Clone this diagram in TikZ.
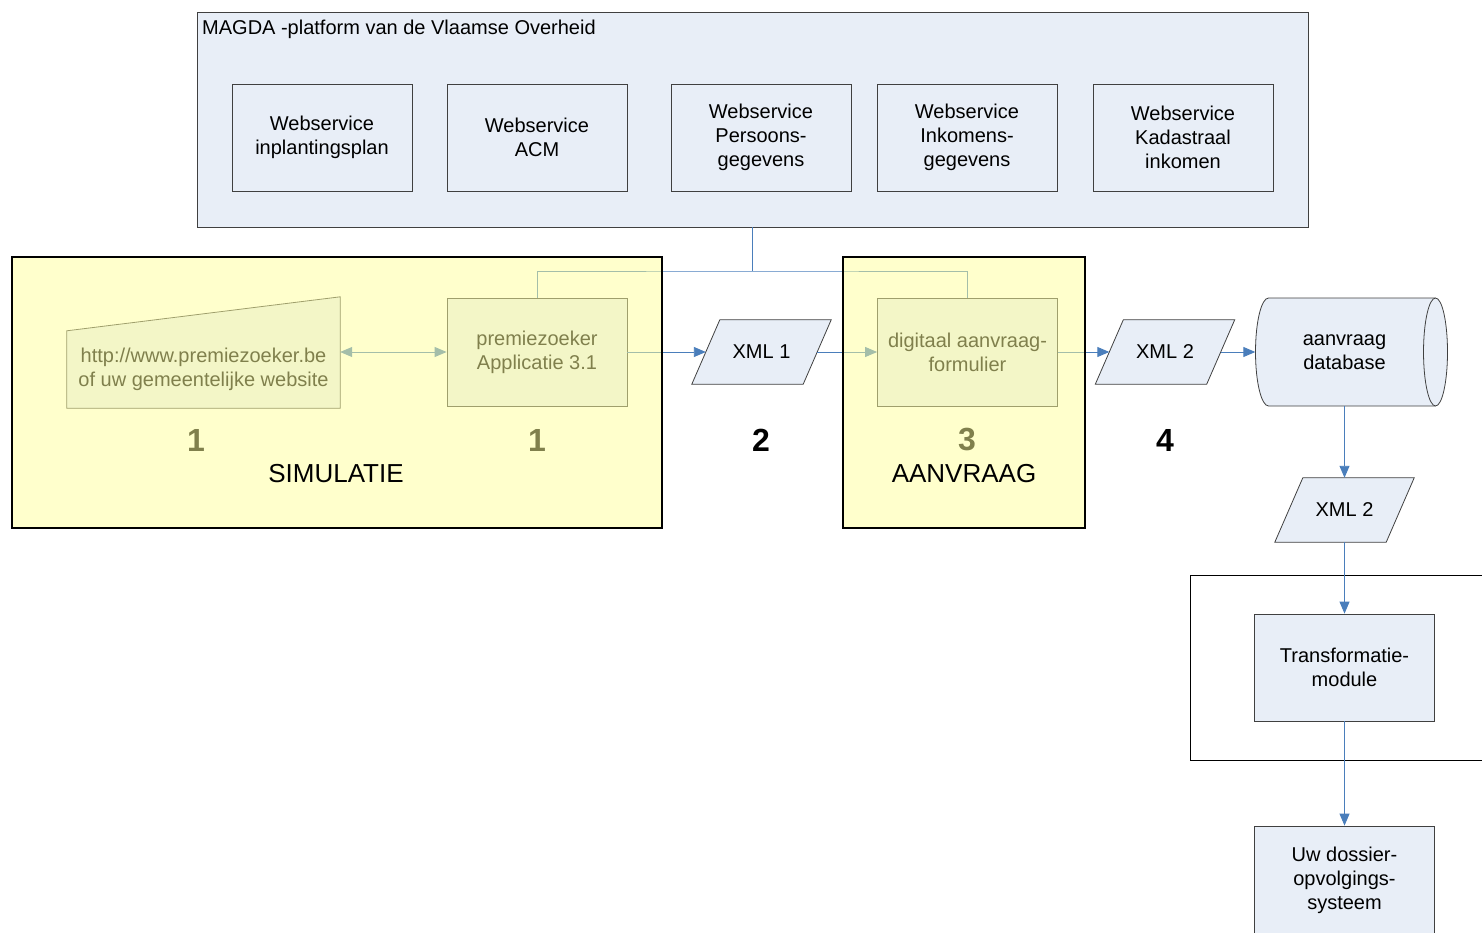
\documentclass[tikz,border=0pt]{standalone}
\usepackage{fontspec}
\setmainfont{Liberation Sans}
\usetikzlibrary{arrows.meta,calc,backgrounds}
\definecolor{boxblue}{HTML}{E8EEF7}
\definecolor{arrowblue}{HTML}{4A7EBB}
\definecolor{hilite}{HTML}{FFFF99}
\definecolor{edge}{HTML}{404040}
\newcommand\parashape[1]{%
  \draw[shapeline] ($(#1.south west)+(-14,0)$) -- ($(#1.north west)+(14,0)$) --
    ($(#1.north east)+(14,0)$) -- ($(#1.south east)+(-14,0)$) -- cycle;}
\begin{document}
\begin{tikzpicture}[x=1pt,y=-1pt,
  every node/.style={font=\fontsize{20}{24}\selectfont, align=center, inner sep=0pt},
  wsbox/.style={draw=edge, line width=0.8pt, fill=boxblue, minimum width=180pt, minimum height=107pt},
  para/.style={minimum width=111pt, minimum height=64pt},
  shapeline/.style={draw=edge, line width=0.8pt, fill=boxblue},
  link/.style={draw=arrowblue, line width=0.9pt},
  flow/.style={link, -{Triangle[length=12pt,width=10pt]}},
  zone/.style={draw=black, line width=1.6pt, fill=hilite, fill opacity=0.5, minimum height=271pt},
  num/.style={font=\fontsize{32}{36}\selectfont\bfseries},
  zonelabel/.style={font=\fontsize{26}{30}\selectfont}]
\useasboundingbox (0,0) rectangle (1482,933);

% MAGDA platform
\node[draw=edge, line width=0.8pt, fill=boxblue, minimum width=1111pt, minimum height=215pt] (magda) at (752.5,119.5) {};
\node[anchor=base west] (magdatitle) at (202,35) {MAGDA -platform van de Vlaamse Overheid};
\node[wsbox] (ws1) at (322,137.5) {Webservice\\inplantingsplan};
\node[wsbox] (ws2) at (537,137.5) {Webservice\\ACM};
\node[wsbox] (ws3) at (761,137.5) {Webservice\\Persoons-\\gegevens};
\node[wsbox] (ws4) at (967,137.5) {Webservice\\Inkomens-\\gegevens};
\node[wsbox] (ws5) at (1183,137.5) {Webservice\\Kadastraal\\inkomen};

% flow nodes
\node[minimum width=273pt, minimum height=77pt] (web) at (203.5,369.5) {http://www.premiezoeker.be\\of uw gemeentelijke website};
\node[wsbox, minimum height=108pt] (app) at (537,352) {premiezoeker\\Applicatie 3.1};
\node[para] (x1) at (761.5,352) {XML 1};
\node[wsbox, minimum height=108pt] (form) at (967.5,352) {digitaal aanvraag-\\formulier};
\node[para] (x2) at (1165,352) {XML 2};
\node[minimum width=178pt, minimum height=108pt] (db) at (1344.5,352) {aanvraag\\database};
\node[para] (x2b) at (1344.5,510) {XML 2};
\node[wsbox] (trans) at (1344.5,667.5) {Transformatie-\\module};
\node[wsbox, minimum height=108pt] (dossier) at (1344.5,880) {Uw dossier-\\opvolgings-\\systeem};

\begin{pgfonlayer}{background}
  \draw[shapeline] (web.south west) -- (web.south east) -- ($(web.north east)+(0,-34)$) -- (web.north west) -- cycle;
  \parashape{x1}
  \parashape{x2}
  \parashape{x2b}
  \draw[shapeline] (1268.5,298) -- (1435.5,298)
    .. controls (1442.1,298) and (1447.5,322.2) .. (1447.5,352)
    .. controls (1447.5,381.8) and (1442.1,406) .. (1435.5,406) -- (1268.5,406)
    .. controls (1261.3,406) and (1255.5,381.8) .. (1255.5,352)
    .. controls (1255.5,322.2) and (1261.3,298) .. (1268.5,298) -- cycle;
  \draw[draw=edge, line width=0.8pt] (1435.5,298) .. controls (1428.9,298) and (1423.5,322.2) .. (1423.5,352)
    .. controls (1423.5,381.8) and (1428.9,406) .. (1435.5,406);
\end{pgfonlayer}

% open frame around transformation module
\draw[black, line width=0.8pt] (1482,575) -- (1190,575) -- (1190,760) -- (1482,760);

% connectors
\coordinate (j) at (752.5,271);
\draw[link] (magda.south) -- (j);
\draw[link] (app.north) |- (j) -| (form.north);
\draw[link, {Triangle[length=12pt,width=10pt]}-{Triangle[length=12pt,width=10pt]}] (web.east |- app.west) -- (app.west);
\draw[flow] (app.east) -- (x1.west);
\draw[flow] (x1.east) -- (form.west);
\draw[flow] (form.east) -- (x2.west);
\draw[flow] (x2.east) -- (db.west);
\draw[flow] (db.south) -- (x2b.north);
\draw[flow] (x2b.south) -- (trans.north);
\draw[flow] (trans.south) -- (dossier.north);

% step numbers
\node[num] (n1a) at (196,440) {1};
\node[num] (n1b) at (537,440) {1};
\node[num] (n2) at (761,440) {2};
\node[num] (n3) at (967,440) {3};
\node[num] (n4) at (1165,440) {4};

% highlighted zones
\node[zone, minimum width=650pt] (sim) at (337,392.5) {};
\node[zone, minimum width=242pt] (aan) at (964,392.5) {};
\node[zonelabel] (simlabel) at (336,474) {SIMULATIE};
\node[zonelabel] (aanlabel) at (964,474) {AANVRAAG};
\end{tikzpicture}
\end{document}
